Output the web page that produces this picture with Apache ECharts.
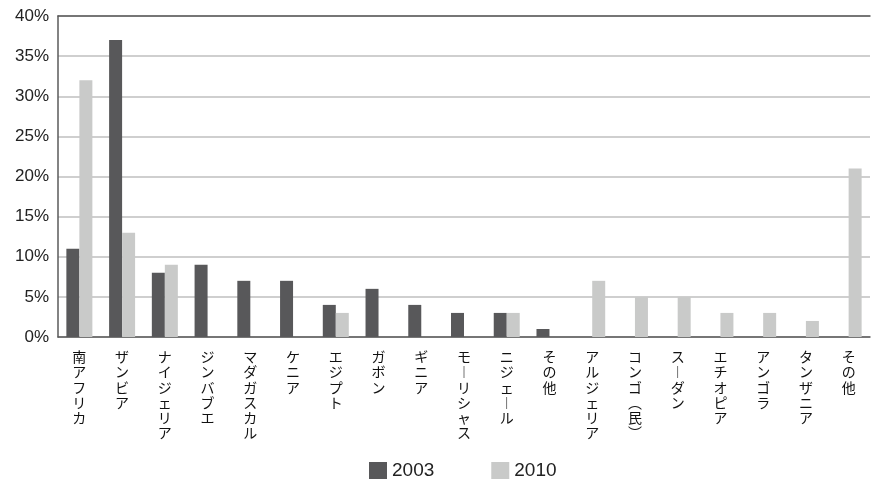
<!DOCTYPE html>
<html>
<head>
<meta charset="utf-8">
<script src="https://cdn.jsdelivr.net/npm/echarts@6/dist/echarts.min.js"></script>
<style>
  html, body { margin: 0; padding: 0; background: #fff; }
  #chart { width: 872px; height: 480px; }
</style>
</head>
<body>
<div id="chart"></div>
<script>
// Countries (two regional groupings, each ending with "その他")
const categories = [
  '南アフリカ', 'ザンビア', 'ナイジェリア', 'ジンバブエ', 'マダガスカル', 'ケニア',
  'エジプト', 'ガボン', 'ギニア', 'モーリシャス', 'ニジェール', 'その他',
  'アルジェリア', 'コンゴ(民)', 'スーダン', 'エチオピア', 'アンゴラ', 'タンザニア', 'その他'
];
// Share in percent
const values2003 = [11, 37, 8, 9, 7, 7, 4, 6, 4, 3, 3, 1, 0, 0, 0, 0, 0, 0, 0];
const values2010 = [32, 13, 9, 0, 0, 0, 3, 0, 0, 0, 3, 0, 7, 5, 5, 3, 3, 2, 21];
const seriesNames = ['2003', '2010'];
const yTicks = { min: 0, max: 40, interval: 5 };

// Stack characters top-to-bottom, using vertical presentation forms
const verticalForms = { 'ー': '\uFE31', '(': '\uFE35', ')': '\uFE36' };
function toVertical(s) {
  return Array.from(s).map(c => verticalForms[c] || c).join('\n');
}

const chart = echarts.init(document.getElementById('chart'), null, { renderer: 'canvas' });
chart.setOption({
  animation: false,
  backgroundColor: '#ffffff',
  grid: { left: 58, right: 2, top: 16, bottom: 143, containLabel: false },
  legend: {
    left: 364, top: 456,
    itemWidth: 18, itemHeight: 17, itemGap: 57,
    icon: 'rect',
    textStyle: { fontFamily: 'Liberation Sans, Arial, sans-serif', fontSize: 19, color: '#222' },
    data: seriesNames
  },
  xAxis: [{
    type: 'category',
    data: categories,
    axisLine: { show: true, lineStyle: { color: '#5a5a5a', width: 1.5 } },
    axisTick: { show: false },
    axisLabel: {
      interval: 0,
      margin: 12,
      formatter: toVertical,
      fontFamily: 'Noto Sans CJK JP, sans-serif',
      fontSize: 14,
      lineHeight: 15.3,
      color: '#111',
      verticalAlign: 'top'
    }
  }, {
    type: 'category',
    position: 'top',
    data: categories,
    axisLine: { show: true, lineStyle: { color: '#5a5a5a', width: 1.5 } },
    axisTick: { show: false },
    axisLabel: { show: false }
  }],
  yAxis: {
    type: 'value',
    min: yTicks.min, max: yTicks.max, interval: yTicks.interval,
    axisLine: { show: true, lineStyle: { color: '#5a5a5a', width: 1.5 } },
    axisTick: { show: false },
    axisLabel: {
      formatter: '{value}%',
      margin: 9,
      fontFamily: 'Liberation Sans, Arial, sans-serif',
      fontSize: 17,
      color: '#222'
    },
    splitLine: { show: true, lineStyle: { color: '#cfcfcf', width: 2 } }
  },
  series: [
    {
      name: seriesNames[0], type: 'bar', data: values2003,
      barWidth: 13, barGap: '0%',
      itemStyle: { color: '#58585a' }
    },
    {
      name: seriesNames[1], type: 'bar', data: values2010,
      barWidth: 13, barGap: '0%',
      itemStyle: { color: '#c9cac9' }
    }
  ]
});
</script>
</body>
</html>
